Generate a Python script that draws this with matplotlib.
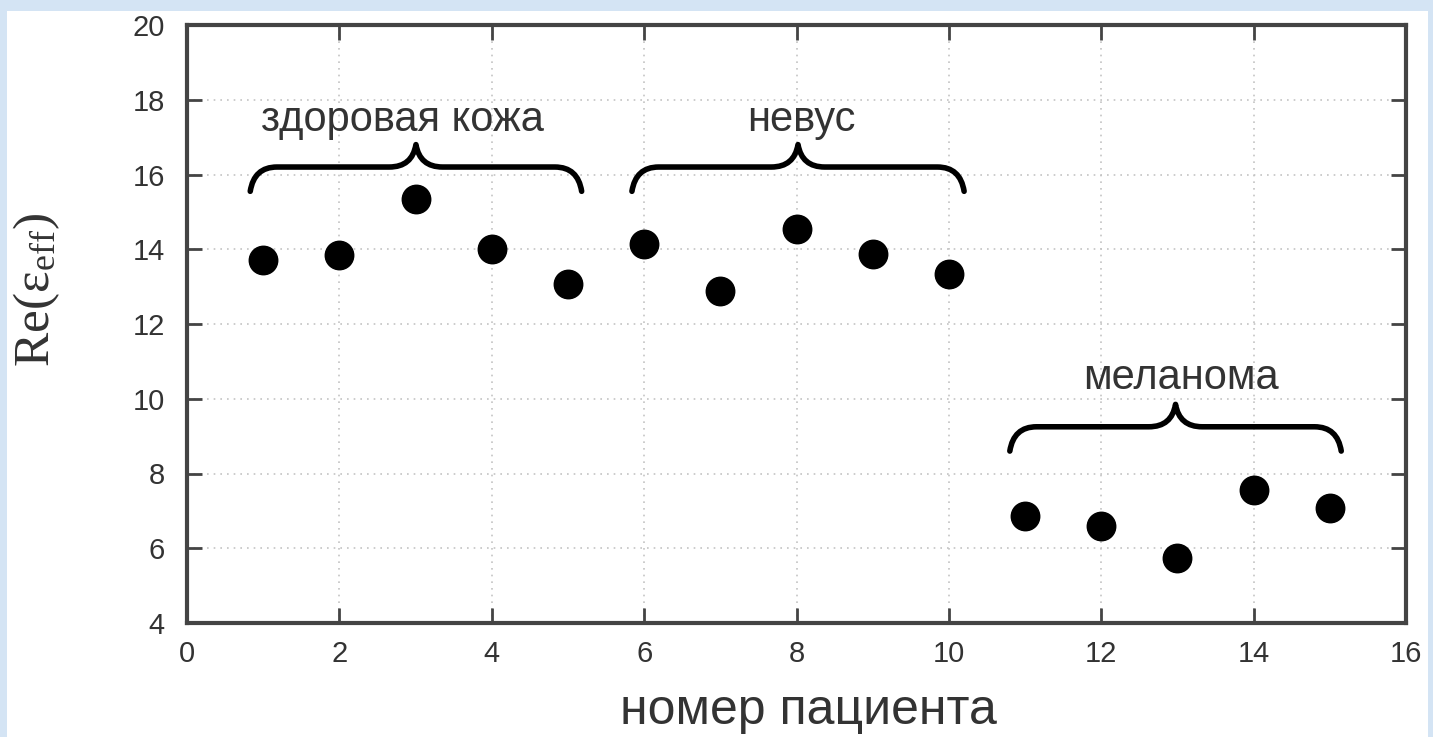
import matplotlib
matplotlib.use("Agg")
import matplotlib.pyplot as plt
from matplotlib.patches import Rectangle, PathPatch
from matplotlib.path import Path

patients = [1, 2, 3, 4, 5, 6, 7, 8, 9, 10, 11, 12, 13, 14, 15]
re_eps = [13.7, 13.85, 15.35, 14.0, 13.07, 14.14, 12.89, 14.55, 13.88, 13.34,
          6.87, 6.6, 5.75, 7.57, 7.09]
group_names = ["здоровая кожа", "невус", "меланома"]
group_start = [0.83, 5.84, 10.8]
group_end = [5.18, 10.2, 15.15]
group_level = [16.2, 16.2, 9.25]
label_x = [2.83, 8.07, 13.04]
label_level = [17.45, 17.45, 10.55]
xticks = [0, 2, 4, 6, 8, 10, 12, 14, 16]
yticks = [4, 6, 8, 10, 12, 14, 16, 18, 20]

plt.rcParams['font.family'] = ['Liberation Sans', 'DejaVu Sans']
plt.rcParams['mathtext.fontset'] = 'custom'
plt.rcParams['mathtext.rm'] = 'Liberation Serif'
plt.rcParams['mathtext.it'] = 'Liberation Serif:italic'

W, H = 1433, 737
fig = plt.figure(figsize=(W / 100, H / 100), dpi=100, facecolor='#d4e4f4')
fig.patches.append(Rectangle((7 / W, 0), (1428 - 7) / W, (737 - 11) / H,
                             transform=fig.transFigure, facecolor='white',
                             edgecolor='none', zorder=-10))

ax = fig.add_axes([187 / W, 1 - 623 / H, (1406 - 187) / W, (623 - 25) / H])
ax.set_zorder(1)
ax.set_facecolor('white')
ax.set_xlim(0, 16)
ax.set_ylim(4, 20)
ax.set_xticks(xticks)
ax.set_yticks(yticks)
ax.tick_params(direction='in', length=11, width=2, color='#444444',
               top=True, right=True, labelsize=21, labelcolor='#333333')
ax.tick_params(axis='y', pad=16)
ax.tick_params(axis='x', pad=12)
for s in ax.spines.values():
    s.set_linewidth(3)
    s.set_color('#444444')
ax.grid(True, linestyle=(0, (1, 3)), color='#c4c4c4', linewidth=1.2)
ax.set_axisbelow(True)

ax.scatter(patients, re_eps, s=420, color='black', zorder=3)


def brace(x0, x1, yf):
    xm = (x0 + x1) / 2
    dy_end = -0.65
    dy_tip = 0.6
    dx = 0.35
    verts = [
        (x0, yf + dy_end),
        (x0 + 0.05, yf), (x0 + dx, yf),
        (xm - dx, yf),
        (xm - 0.05, yf), (xm, yf + dy_tip),
        (xm + 0.05, yf), (xm + dx, yf),
        (x1 - dx, yf),
        (x1 - 0.05, yf), (x1, yf + dy_end),
    ]
    codes = [Path.MOVETO, Path.CURVE3, Path.CURVE3, Path.LINETO,
             Path.CURVE3, Path.CURVE3, Path.CURVE3, Path.CURVE3,
             Path.LINETO, Path.CURVE3, Path.CURVE3]
    return PathPatch(Path(verts, codes), facecolor='none', edgecolor='black',
                     linewidth=4, capstyle='round', joinstyle='round', zorder=4)


for name, a, b, lv, tx, tl in zip(group_names, group_start, group_end,
                                  group_level, label_x, label_level):
    ax.add_patch(brace(a, b, lv))
    ax.text(tx, tl, name, ha='center', va='center',
            fontsize=30, color='#333333')

ax.set_xlabel('номер пациента', fontsize=36, color='#333333', labelpad=15)
ax.xaxis.label.set_x(0.51)
fig.text(37 / W, 1 - 290 / H, r'$\mathrm{Re(ε_{eff})}$',
         rotation=90, ha='center', va='center', fontsize=37, color='#333333')

fig.savefig('out.png', dpi=100, facecolor=fig.get_facecolor())
